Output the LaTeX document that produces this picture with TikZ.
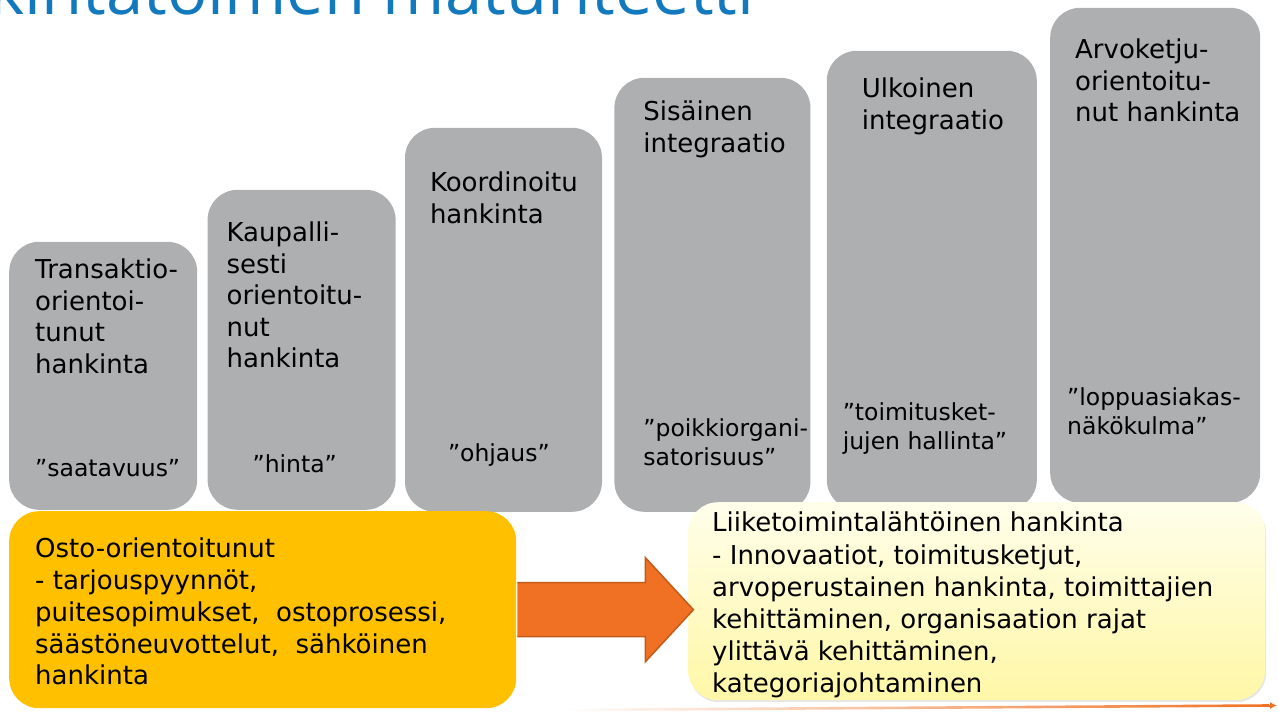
\documentclass[tikz,border=0pt]{standalone}
\usepackage{fontspec}
\setmainfont{DejaVu Sans}
\newfontfamily\titlefont{Open Sans}
\usetikzlibrary{positioning, shadows, arrows.meta}

\definecolor{stagegrey}{HTML}{AEAFB1}
\definecolor{ostoyellow}{HTML}{FFC000}
\definecolor{arroworange}{HTML}{F07124}
\definecolor{arrowedge}{HTML}{C45A18}
\definecolor{titleblue}{HTML}{1279BE}
\definecolor{liiketop}{HTML}{FFFEEA}
\definecolor{liikebottom}{HTML}{FFF7A6}

\begin{document}
\begin{tikzpicture}[x=1pt, y=-1pt,
    stage/.style={fill=stagegrey, rounded corners=30pt, minimum width=188pt, inner sep=0pt, anchor=south west},
    headtext/.style={align=left, inner sep=0pt, anchor=north west, font=\fontsize{26pt}{31.5pt}\selectfont},
    quotetext/.style={headtext, font=\fontsize{23.5pt}{28.5pt}\selectfont},
    arrowfill/.style={fill=arroworange},
    arrowline/.style={draw=arrowedge, line width=1.5pt, line join=miter}]

    \clip (0,0) rectangle (1278,712);
    \useasboundingbox (0,0) rectangle (1278,712);

    % otsikko
    \node[font=\titlefont\fontsize{67pt}{72pt}\selectfont, text=titleblue, anchor=base west, inner sep=0pt] (title) at (-11,14) {kintatoimen maturiteetti};

    % portaat
    \node[stage, minimum height=268pt] (s1) at (9,510) {};
    \node[stage, minimum height=320pt, right=10pt of s1.south east, anchor=south west] (s2) {};
    \node[stage, minimum width=197pt, minimum height=384pt, right=9pt of s2.south east, anchor=south west, yshift=-2pt] (s3) {};
    \node[stage, minimum width=196pt, minimum height=434pt, right=12pt of s3.south east, anchor=south west] (s4) {};
    \node[stage, minimum width=210pt, minimum height=459pt, right=16pt of s4.south east, anchor=south west, yshift=2pt] (s5) {};
    \node[stage, minimum width=210pt, minimum height=495pt, right=13pt of s5.south east, anchor=south west, yshift=7pt] (s6) {};

    \node[headtext, below right=17pt and 26pt of s1.north west] (h1) {Transaktio-\\orientoi-\\tunut\\hankinta};
    \node[headtext, below right=32pt and 19pt of s2.north west] (h2) {Kaupalli-\\sesti\\orientoitu-\\nut\\hankinta};
    \node[headtext, below right=44pt and 25pt of s3.north west] (h3) {Koordinoitu\\hankinta};
    \node[headtext, below right=23pt and 29pt of s4.north west] (h4) {Sisäinen\\integraatio};
    \node[headtext, below right=27pt and 35pt of s5.north west] (h5) {Ulkoinen\\integraatio};
    \node[headtext, below right=31pt and 25pt of s6.north west] (h6) {Arvoketju-\\orientoitu-\\nut hankinta};

    \node[quotetext, below right=218pt and 26pt of s1.north west] (q1) {”saatavuus”};
    \node[quotetext, below right=265pt and 45pt of s2.north west] (q2) {”hinta”};
    \node[quotetext, below right=316pt and 43pt of s3.north west] (q3) {”ohjaus”};
    \node[quotetext, below right=341pt and 29pt of s4.north west] (q4) {”poikkiorgani-\\satorisuus”};
    \node[quotetext, below right=352pt and 16pt of s5.north west] (q5) {”toimitusket-\\jujen hallinta”};
    \node[quotetext, below right=380pt and 17pt of s6.north west] (q6) {”loppuasiakas-\\näkökulma”};

    % alalaatikot
    \node[top color=liiketop, bottom color=liikebottom, rounded corners=30pt, minimum width=577pt, minimum height=198pt,
          anchor=north west, drop shadow={opacity=0.2, shadow xshift=1pt, shadow yshift=-2pt}] (liike) at (688,502) {};
    \node[fill=ostoyellow, rounded corners=30pt, minimum width=507pt, minimum height=197pt, anchor=north west] (osto) at (9,511) {};

    % nuoli
    \fill[arrowfill] (osto.east) ++(1,-27) -- ++(128,0) -- ++(0,-25) -- ++(48,52) -- ++(-48,52) -- ++(0,-25) -- ++(-128,0) -- cycle;
    \draw[arrowline] (osto.east) ++(1,-27) -- ++(128,0) -- ++(0,-25) -- ++(48,52) -- ++(-48,52) -- ++(0,-25) -- ++(-128,0);

    \node[headtext, font=\fontsize{26pt}{31.7pt}\selectfont, below right=27pt and 26pt of osto.north west] (ostotext)
        {Osto-orientoitunut\\- tarjouspyynnöt,\\puitesopimukset,\ \ ostoprosessi,\\säästöneuvottelut,\ \ sähköinen\\hankinta};
    \node[headtext, font=\fontsize{26pt}{32.2pt}\selectfont, below right=10pt and 24pt of liike.north west] (liiketext)
        {Liiketoimintalähtöinen hankinta\\- Innovaatiot, toimitusketjut,\\arvoperustainen hankinta, toimittajien\\kehittäminen, organisaation rajat\\ylittävä kehittäminen,\\kategoriajohtaminen};

    % aikajana
    \coordinate (tl0) at (560,710);
    \coordinate (tl1) at (1277,705.5);
    \shade[left color=white, right color=arroworange] ([yshift=1.3pt]tl0) -- ([yshift=1.3pt,xshift=-8pt]tl1) -- ([yshift=-1.3pt,xshift=-8pt]tl1) -- ([yshift=-1.3pt]tl0) -- cycle;
    \draw[arroworange, line width=2pt, -{Latex[length=7pt,width=7pt]}] ([xshift=-12pt]tl1) -- (tl1);

\end{tikzpicture}
\end{document}
